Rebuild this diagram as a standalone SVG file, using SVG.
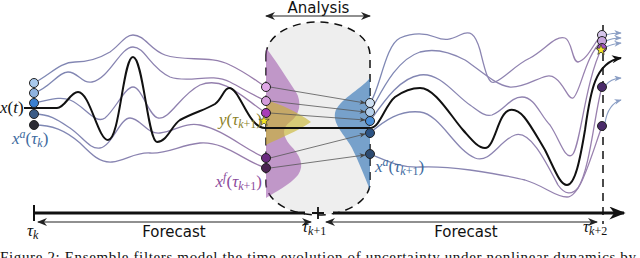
<svg xmlns="http://www.w3.org/2000/svg" width="640" height="258" viewBox="0 0 640 258">
<style>
.traj{fill:none;stroke-width:1.3}
.tl{stroke:url(#gl)}
.tr{stroke:url(#gr)}
.truth{fill:none;stroke:#111;stroke-width:2}
.pt{stroke:#222;stroke-width:1}
.upd{fill:none;stroke:#555;stroke-width:0.8;marker-end:url(#sm)}
.out{fill:none;stroke:#8a9ec4;stroke-width:1.2;marker-end:url(#sb)}
.math{font-family:"Liberation Serif","DejaVu Serif",serif;font-size:17px}
.it{font-style:italic}
.sub{font-size:12px}
.sans{font-family:"DejaVu Sans","Liberation Sans",sans-serif;font-size:15px;fill:#111}
</style>
<defs>
<linearGradient id="gl" gradientUnits="userSpaceOnUse" x1="34" y1="0" x2="266" y2="0"><stop offset="0" stop-color="#7d88b4"/><stop offset="1" stop-color="#9a7cab"/></linearGradient>
<linearGradient id="gr" gradientUnits="userSpaceOnUse" x1="370" y1="0" x2="602" y2="0"><stop offset="0" stop-color="#7d88b4"/><stop offset="1" stop-color="#9a80ae"/></linearGradient>
<marker id="st" viewBox="0 0 10 8" refX="9" refY="4" markerWidth="11" markerHeight="8" orient="auto-start-reverse" markerUnits="userSpaceOnUse"><path d="M0,0 L10,4 L0,8 L3,4z" fill="#222"/></marker>
<marker id="big" viewBox="0 0 10 8" refX="9" refY="4" markerWidth="18" markerHeight="13" orient="auto" markerUnits="userSpaceOnUse"><path d="M0,0 L10,4 L0,8 L3,4z" fill="#111"/></marker>
<marker id="sm" viewBox="0 0 10 8" refX="9" refY="4" markerWidth="6" markerHeight="5" orient="auto" markerUnits="userSpaceOnUse"><path d="M0,0 L10,4 L0,8 L3,4z" fill="#444"/></marker>
<marker id="sb" viewBox="0 0 10 8" refX="9" refY="4" markerWidth="8" markerHeight="6" orient="auto" markerUnits="userSpaceOnUse"><path d="M0,0 L10,4 L0,8 L3,4z" fill="#8a9ec4"/></marker>
<marker id="bk" viewBox="0 0 10 8" refX="9" refY="4" markerWidth="11" markerHeight="8" orient="auto" markerUnits="userSpaceOnUse"><path d="M0,0 L10,4 L0,8 L3,4z" fill="#111"/></marker>
<path id="star" d="M0,-5.5 L1.3,-1.8 L5.2,-1.7 L2.1,0.7 L3.2,4.4 L0,2.2 L-3.2,4.4 L-2.1,0.7 L-5.2,-1.7 L-1.3,-1.8Z"/>
</defs>

<g id="analysis-region">
<path d="M266,55 A52,33 0 0 1 370,55 L370,183 A52,32 0 0 1 266,183Z" fill="#eeeeee"/>
<path d="M266,55 A52,33 0 0 1 370,55 L370,183 A52,32 0 0 1 266,183Z" fill="none" stroke="#111" stroke-width="1.5" stroke-dasharray="8,6"/>
</g>

<g id="densities">
<path d="M266,48 C272,55 285,75 296,92 C302,102 300,115 290,122 C282,128 282,135 290,145 C300,155 305,165 298,175 C290,185 275,192 266,198Z" fill="#9b50aa" fill-opacity="0.55"/>
<path d="M266,100 C280,104 298,112 311,122 C298,131 280,138 266,145Z" fill="#c8b428" fill-opacity="0.6"/>
<path d="M370,78 C360,90 338,100 335,113 C333,125 345,135 352,148 C358,160 364,175 370,190Z" fill="#286eb4" fill-opacity="0.6"/>
</g>

<g id="connectors">
<path class="traj tl" d="M34,83 C50,75 60,62 75,62 C90,62 100,58 110,52 C120,45 125,35 133,35 C145,35 150,50 165,55 C185,62 210,55 230,65 C245,72 255,80 266,87"/>
<path class="traj tl" d="M34,93 C50,88 58,72 68,72 C78,72 82,84 92,82 C110,78 120,47 133,47 C145,47 150,68 170,77 C190,84 210,72 230,82 C245,90 255,96 266,101"/>
<path class="traj tl" d="M34,103 C50,100 60,96 70,100 C85,106 95,125 105,118 C115,110 125,87 133,87 C142,87 148,115 158,118 C170,120 180,95 200,85 C225,75 245,100 266,113"/>
<path class="traj tl" d="M34,114 C50,114 58,120 70,128 C82,136 90,150 100,148 C112,146 120,118 130,118 C140,118 148,135 160,133 C175,131 185,122 200,125 C225,130 245,150 266,158"/>
<path class="traj tl" d="M34,125 C52,125 65,130 80,143 C92,155 100,163 112,162 C125,161 135,152 150,153 C168,154 180,145 200,143 C225,141 245,162 266,168"/>
<path class="truth" d="M24,108 L57,108 C65,108 70,92 78,92 C90,92 98,140 108,140 C120,140 123,57 133,57 C143,57 148,142 157,142 C167,142 172,125 180,120 C195,112 205,110 215,104 C222,99 224,88 229,88 C240,88 248,128 265,128 L370,128"/>

<path class="traj tr" d="M370,103 C380,90 385,45 400,38 C412,33 425,33 435,37 C445,41 450,40 460,35 C470,30 475,33 480,50 C485,70 488,85 495,82 C505,78 515,65 530,58 C545,50 555,35 565,38 C572,40 572,62 578,62 C588,60 595,40 602,35"/>
<path class="traj tr" d="M370,112 C380,95 395,60 420,52 C435,48 450,52 465,60 C480,70 495,85 510,87 C530,88 545,70 555,78 C565,85 568,100 573,98 C580,95 585,55 602,41"/>
<path class="traj tr" d="M370,121 C385,100 400,78 420,75 C440,72 455,95 470,105 C480,112 485,117 492,115 C505,110 510,97 522,97 C535,97 540,115 550,125 C560,140 565,160 572,155 C580,150 585,80 602,48"/>
<path class="traj tr" d="M370,133 C385,120 400,110 420,112 C440,114 455,150 475,158 C490,164 500,140 515,135 C530,130 545,160 558,185 C565,195 572,195 578,188 C590,170 595,110 602,87"/>
<path class="traj tr" d="M370,154 C385,160 400,168 420,167 C440,166 455,168 470,170 C490,173 510,176 525,180 C545,186 555,197 567,197 C580,197 590,160 602,126"/>
<path class="truth" marker-end="url(#bk)" d="M370,128 C380,128 385,105 395,97 C405,90 412,88 420,88 C435,88 450,115 463,130 C472,140 478,148 485,148 C495,148 498,112 510,110 C522,108 530,125 545,150 C555,170 560,185 567,185 C575,185 580,160 585,130 C590,95 594,62 621,58"/>

<path class="upd" d="M270,87 L365,103"/>
<path class="upd" d="M270,101 L365,112"/>
<path class="upd" d="M270,113 L365,120"/>
<path class="upd" d="M270,158 L365,134"/>
<path class="upd" d="M270,168 L365,155"/>

<path class="out" d="M606,35 Q612,33 621,33"/>
<path class="out" d="M606,41 Q612,38 621,38"/>
<path class="out" d="M606,47 Q612,44 621,43"/>
<path class="out" d="M606,85 Q610,79 621,78"/>
<path class="out" d="M605,123 Q608,104 621,100"/>
</g>

<g id="timeline">
<line x1="34" y1="205" x2="34" y2="221" stroke="#111" stroke-width="2"/>
<line x1="34" y1="213" x2="305" y2="213" stroke="#111" stroke-width="3"/>
<line x1="333" y1="213" x2="624" y2="213" stroke="#111" stroke-width="3" marker-end="url(#big)"/>
<path d="M312,213 H324 M318,207 V219" stroke="#111" stroke-width="1.8"/>
<line x1="38" y1="222" x2="311" y2="222" stroke="#222" stroke-width="1.2" marker-start="url(#st)" marker-end="url(#st)"/>
<line x1="326" y1="222" x2="597" y2="222" stroke="#222" stroke-width="1.2" marker-start="url(#st)" marker-end="url(#st)"/>
<line x1="603" y1="25" x2="603" y2="224" stroke="#111" stroke-width="1.5" stroke-dasharray="8,6"/>
<line x1="266" y1="16" x2="370" y2="16" stroke="#222" stroke-width="1.2" marker-start="url(#st)" marker-end="url(#st)"/>
</g>

<g id="ensemble-tk">
<circle class="pt" cx="34" cy="83" r="4.5" fill="#a9c9ec"/>
<circle class="pt" cx="34" cy="93" r="4.5" fill="#8fb3e0"/>
<circle class="pt" cx="34" cy="103" r="4.5" fill="#3b80d0"/>
<circle class="pt" cx="34" cy="114" r="4.5" fill="#3a5b86"/>
<circle class="pt" cx="34" cy="125" r="4.5" fill="#2b2b33"/>
</g>
<g id="forecast-tk1">
<circle class="pt" cx="266" cy="87" r="4.5" fill="#e0a8e8"/>
<circle class="pt" cx="266" cy="101" r="4.5" fill="#d49cdc"/>
<circle class="pt" cx="266" cy="113" r="4.5" fill="#a83cb8"/>
<use href="#star" x="264" y="121" fill="#f4e526" stroke="#333" stroke-width="0.7"/>
<circle class="pt" cx="266" cy="158" r="4.5" fill="#6a2a80"/>
<circle class="pt" cx="266" cy="168" r="4.5" fill="#4a2352"/>
</g>
<g id="analysis-tk1">
<circle class="pt" cx="370" cy="103" r="4.5" fill="#cddff2"/>
<circle class="pt" cx="370" cy="112" r="4.5" fill="#b5cfea"/>
<circle class="pt" cx="370" cy="121" r="4.5" fill="#4a8ed8"/>
<circle class="pt" cx="370" cy="133" r="4.5" fill="#2c5384"/>
<circle class="pt" cx="370" cy="154" r="4.5" fill="#2c4a70"/>
</g>
<g id="forecast-tk2">
<circle class="pt" cx="602" cy="35" r="4.5" fill="#d6c6ec"/>
<circle class="pt" cx="602" cy="41" r="4.5" fill="#c6a4dc"/>
<circle class="pt" cx="602" cy="48" r="4.5" fill="#a050c0"/>
<use href="#star" x="601" y="50" fill="#f4e526" stroke="#333" stroke-width="0.7"/>
<circle class="pt" cx="602" cy="87" r="4.5" fill="#4a2a6a"/>
<circle class="pt" cx="602" cy="126" r="4.5" fill="#4a2a6a"/>
</g>

<g id="labels">
<text class="math" x="0" y="113" fill="#111"><tspan class="it">x</tspan>(<tspan class="it">t</tspan>)</text>
<text class="math" x="12" y="144" fill="#3d6a9e"><tspan class="it">x</tspan><tspan class="it sub" dy="-6">a</tspan><tspan dy="6">(</tspan><tspan class="it">τ</tspan><tspan class="it sub" dy="3">k</tspan><tspan dy="-3">)</tspan></text>
<text class="math" x="262" y="125" fill="#8c8228" text-anchor="end"><tspan class="it">y</tspan>(<tspan class="it">τ</tspan><tspan class="it sub" dy="3">k</tspan><tspan class="sub">+1</tspan><tspan dy="-3">)</tspan></text>
<text class="math" x="262" y="187" fill="#8b4a9c" text-anchor="end"><tspan class="it">x</tspan><tspan class="it sub" dy="-6">f</tspan><tspan dy="6">(</tspan><tspan class="it">τ</tspan><tspan class="it sub" dy="3">k</tspan><tspan class="sub">+1</tspan><tspan dy="-3">)</tspan></text>
<text class="math" x="375" y="172" fill="#3d6a9e"><tspan class="it">x</tspan><tspan class="it sub" dy="-6">a</tspan><tspan dy="6">(</tspan><tspan class="it">τ</tspan><tspan class="it sub" dy="3">k</tspan><tspan class="sub">+1</tspan><tspan dy="-3">)</tspan></text>
<text class="math" x="27" y="236" fill="#111"><tspan class="it">τ</tspan><tspan class="it sub" dy="3">k</tspan></text>
<text class="math" x="302" y="232" fill="#111"><tspan class="it">τ</tspan><tspan class="it sub" dy="3">k</tspan><tspan class="sub">+1</tspan></text>
<text class="math" x="583" y="232" fill="#111"><tspan class="it">τ</tspan><tspan class="it sub" dy="3">k</tspan><tspan class="sub">+2</tspan></text>
<text class="sans" x="174" y="237" text-anchor="middle">Forecast</text>
<text class="sans" x="466" y="237" text-anchor="middle">Forecast</text>
<text class="sans" x="318.5" y="13" text-anchor="middle">Analysis</text>
<text x="0" y="262" font-family="Liberation Serif, serif" font-size="15" fill="#111" textLength="636">Figure 2: Ensemble filters model the time evolution of uncertainty under nonlinear dynamics by</text>
</g>
</svg>
